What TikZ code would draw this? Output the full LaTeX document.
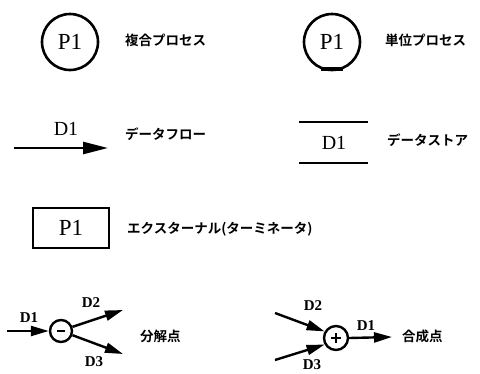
\documentclass[tikz,border=0pt]{standalone}
\usepackage{fontspec}
\setmainfont{Liberation Serif}
\newfontfamily\jp{Noto Sans CJK JP Bold}
\usetikzlibrary{arrows.meta,calc}
\begin{document}
\begin{tikzpicture}[x=1pt,y=-1pt,
  lbl/.style={font=\jp\fontsize{13.5}{13.5}\selectfont, anchor=west, inner sep=0pt},
  dl/.style={font=\fontsize{20}{20}\selectfont, inner sep=0pt},
  sl/.style={font=\bfseries\fontsize{15}{15}\selectfont, inner sep=0pt},
  bigarrow/.style={line width=2.6pt, -{Triangle[length=25pt,width=12pt]}},
  smallarrow/.style={line width=2.4pt, -{Triangle[length=18pt,width=10pt]}},
  proc/.style={circle, draw, line width=2.6pt, minimum size=56pt, inner sep=0pt, font=\fontsize{23}{23}\selectfont}
]
\useasboundingbox (0,0) rectangle (480,373);
% composite process
\node[proc] (c1) at (70,42) {P1};
\node[lbl] (t1) at (125,40) {複合プロセス};
% unit process
\node[proc] (c2) at (332,42) {P1};
\draw[line width=4pt] (c2.south) ++(-11,-2.5) -- ++(22,0);
\node[lbl] (t2) at (385,40) {単位プロセス};
% data flow
\coordinate (f1) at (14,148);
\coordinate (f2) at (108,148);
\draw[bigarrow] (f1) -- (f2);
\node[dl] (fd) at (66,129) {D1};
\node[lbl] (t3) at (125,134) {データフロー};
% data store
\coordinate (s1) at (299,122);
\coordinate (s2) at (368,122);
\coordinate (s3) at (299,163);
\coordinate (s4) at (368,163);
\draw[line width=2.6pt] (s1) -- (s2);
\draw[line width=2.6pt] (s3) -- (s4);
\node[dl] (sd) at (334,143) {D1};
\node[lbl] (t4) at (387,140) {データストア};
% external
\node[draw, line width=2.8pt, minimum width=76pt, minimum height=40pt, inner sep=0pt, font=\fontsize{23}{23}\selectfont] (ext) at (71,228) {P1};
\node[lbl] (t5) at (127,229) {エクスターナル(ターミネータ)};
% decomposition
\node[circle, draw, line width=2.4pt, minimum size=22pt, inner sep=0pt] (m) at (61,331) {};
\draw[line width=1.6pt] ($(m.center)+(-4,0)$) -- ($(m.center)+(4,0)$);
\coordinate (a0) at (7,331);
\coordinate (a1) at (123,310);
\coordinate (a2) at (123,354);
\draw[smallarrow] (a0) -- (m.west);
\draw[smallarrow] (m.20) -- (a1);
\draw[smallarrow] (m.-20) -- (a2);
\node[sl] (md1) at (29,318) {D1};
\node[sl] (md2) at (91,303) {D2};
\node[sl] (md3) at (94,362) {D3};
\node[lbl] (t6) at (140,336) {分解点};
% composition
\node[circle, draw, line width=2.4pt, minimum size=24pt, inner sep=0pt] (p) at (336,338) {};
\draw[line width=1.4pt] ($(p.center)+(-5,0)$) -- ($(p.center)+(5,0)$);
\draw[line width=1.4pt] ($(p.center)+(0,-5)$) -- ($(p.center)+(0,5)$);
\coordinate (b1) at (275,313);
\coordinate (b2) at (275,360);
\coordinate (b3) at (392,337);
\draw[smallarrow] (b1) -- (p.150);
\draw[smallarrow] (b2) -- (p.-150);
\draw[smallarrow] (p.east) -- (b3);
\node[sl] (pd2) at (313,306) {D2};
\node[sl] (pd3) at (312,365) {D3};
\node[sl] (pd1) at (366,326) {D1};
\node[lbl] (t7) at (402,336) {合成点};
\end{tikzpicture}
\end{document}
